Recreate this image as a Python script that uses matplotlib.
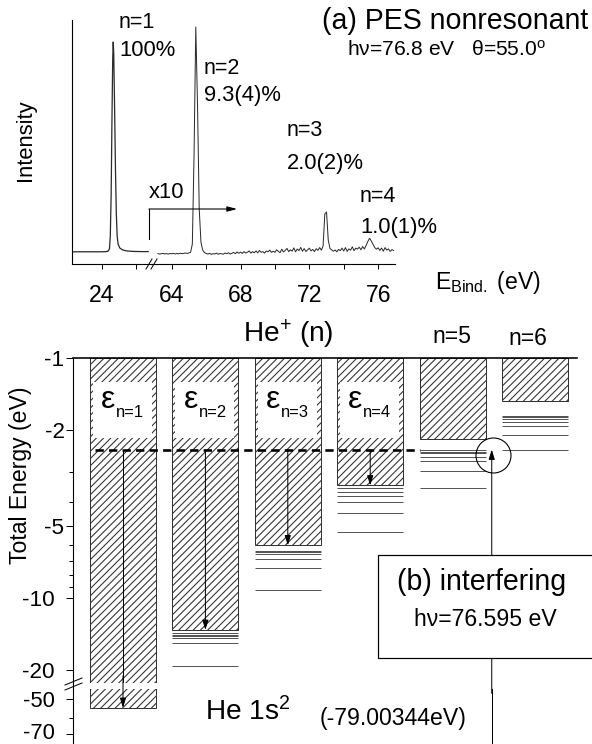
import numpy as np
import matplotlib
matplotlib.use('Agg')
import matplotlib.pyplot as plt
from matplotlib.lines import Line2D
from matplotlib.patches import Rectangle
from matplotlib import transforms

plt.rcParams['font.family'] = ['Liberation Sans', 'DejaVu Sans']
plt.rcParams['mathtext.fontset'] = 'custom'
plt.rcParams['mathtext.rm'] = 'Liberation Sans'
plt.rcParams['mathtext.it'] = 'Liberation Sans:italic'
plt.rcParams['mathtext.bf'] = 'Liberation Sans:bold'
plt.rcParams['hatch.linewidth'] = 0.6

DPI = 130
W, H = 592, 744
PT = 72.0 / DPI  # pixel -> point

# ---------------- data: (a) PES spectrum ----------------
pes_x_low = [22.28, 23.0, 23.8, 24.2, 24.35, 24.45, 24.5, 24.55, 24.6, 24.64,
             24.67, 24.7, 24.75, 24.8, 24.85, 24.9, 24.95, 25.05, 25.2, 25.4,
             25.8, 26.3, 26.7]
pes_i_low = [12.2, 12.2, 12.2, 12.3, 12.6, 15, 28, 70, 150, 205,
             222, 210, 155, 95, 50, 28, 20, 16, 14.2, 13.2,
             12.6, 12.4, 12.4]
pes_x_high = np.round(np.arange(63.2, 76.95, 0.1), 2)
pes_i_high = [10.4, 10.0, 10.3, 10.6, 10.1, 10.4, 9.9, 10.5,
              10.2, 10.7, 10.0, 10.5, 10.1, 10.8, 10.3, 10.6, 11.0, 10.6,
              11.0, 11.8, 20, 110, 237, 160, 55, 22, 14, 11.5,
              10.6, 9.9, 10.7, 9.6, 10.3, 10.0, 10.9, 9.7, 10.5, 10.1,
              9.8, 11.0, 10.2, 11.3, 9.9, 10.8, 11.6, 10.3, 12.1, 10.7,
              11.9, 10.6, 12.4, 11.0, 11.7, 13.1, 10.9, 12.4, 11.2, 13.0,
              11.2, 13.5, 11.7, 12.4, 10.9, 13.0, 12.2, 13.9, 11.6, 12.8,
              11.6, 14.2, 12.6, 11.3, 14.8, 12.1, 13.6, 15.6, 12.4, 14.2,
              12.8, 16.1, 12.2, 15.0, 13.4, 16.6, 12.7, 15.4, 12.5, 14.1,
              15.8, 13.1, 14.6, 12.4, 15.3, 13.6, 16.4, 13.8, 18, 50,
              52, 24, 15.5, 14.2, 12.8, 14.0, 12.2, 14.6, 13.3, 15.9,
              13.0, 16.4, 12.6, 15.1, 13.8, 17.2, 13.4, 15.8, 14.9, 16.8,
              14.2, 17.5, 15.0, 18.6, 22.5, 25.7, 23.0, 19.8, 16.5, 14.8,
              16.2, 13.6, 15.9, 12.8, 16.4, 13.9, 15.1, 12.6, 14.4, 13.5]
xticks_low = [24]
xticks_low_minor = [26]
xticks_high = [64, 68, 72, 76]
xticks_high_minor = [66, 70, 74]
peak_names = ["n=1", "n=2", "n=3", "n=4"]
peak_ratios = ["100%", "9.3(4)%", "2.0(2)%", "1.0(1)%"]

# ---------------- data: (b) energy level diagram ----------------
levels_n = [1, 2, 3, 4, 5, 6]
thresholds = [-54.4, -13.6, -6.04, -3.40, -2.18, -1.51]   # He+(n) thresholds (eV)
ryd_n2 = [-14.0, -14.25, -14.45, -14.75, -15.4, -19.2]
ryd_n3 = [-6.35, -6.45, -6.58, -6.88, -7.48, -9.26]
ryd_n4 = [-3.49, -3.63, -3.76, -3.99, -4.41, -5.32]
ryd_n5 = [-2.42, -2.46, -2.50, -2.58, -2.70, -2.95, -3.47]
ryd_n6 = [-1.74, -1.77, -1.80, -1.84, -1.93, -2.10, -2.43]
ground_energy = -79.00344
photon_energy = 76.595
final_energy = ground_energy + photon_energy
yticks_main = [-1, -2, -5, -10, -20]
yticks_main_minor = [-3, -4, -6, -7, -8, -9]
yticks_low = [-50, -70]
yticks_low_minor = [-60]

# ---------------- figure ----------------
fig = plt.figure(figsize=(W / DPI, H / DPI), dpi=DPI)


def fx(px):
    return px / W


def fy(py):
    return 1 - py / H


def rect(l, t, r, b):
    return [fx(l), fy(b), (r - l) / W, (b - t) / H]


def ftext(x, y, s, size, **kw):
    kw.setdefault('ha', 'left')
    kw.setdefault('va', 'center')
    return fig.text(fx(x), fy(y), s, fontsize=size * PT, **kw)


def fline(xs, ys, lw=1.0, **kw):
    fig.add_artist(Line2D([fx(v) for v in xs], [fy(v) for v in ys],
                          transform=fig.transFigure, color='k',
                          lw=lw * PT, **kw))


# ---- panel (a) ----
axL = fig.add_axes(rect(72, 20, 152, 264))
axR = fig.add_axes(rect(152, 20, 395, 264))
axL.set_xlim(22.273, 26.924)
axR.set_xlim(62.855, 76.98)
for ax in (axL, axR):
    ax.set_ylim(0, 244)
    ax.set_yticks([])
    ax.patch.set_alpha(0)
    for s in ('top', 'right'):
        ax.spines[s].set_visible(False)
    ax.spines['bottom'].set_linewidth(1.1 * PT)
    ax.spines['left'].set_linewidth(1.1 * PT)
    ax.tick_params(axis='x', which='both', direction='out', length=5 * PT,
                   width=1.0 * PT, pad=15 * PT, labelsize=23 * PT)
axR.spines['left'].set_visible(False)
axL.set_xticks(xticks_low, labels=[str(v) for v in xticks_low])
axL.set_xticks(xticks_low_minor, minor=True)
axR.set_xticks(xticks_high, labels=[str(v) for v in xticks_high])
axR.set_xticks(xticks_high_minor, minor=True)

axL.plot(pes_x_low, pes_i_low, color='#2a2a2a', lw=0.7)
axR.plot(pes_x_high, pes_i_high, color='#2a2a2a', lw=0.55)

# x10 marker
axR.plot([62.68, 62.68], [25, 55], color='k', lw=0.6, clip_on=False)
axR.annotate('', xy=(67.80, 55), xytext=(62.68, 55), annotation_clip=False,
             arrowprops=dict(arrowstyle='-|>,head_length=0.45,head_width=0.12',
                             lw=0.6, color='k', shrinkA=0, shrinkB=0))
ftext(149, 192, "x10", 22)

# peak annotations
name_pos = [(119, 23), (204, 68), (287, 131), (360, 197)]
ratio_pos = [(119, 51), (204, 96), (287, 163), (360, 227)]
for nm, rt, (x1, y1), (x2, y2) in zip(peak_names, peak_ratios, name_pos, ratio_pos):
    ftext(x1, y1, nm, 21.5)
    ftext(x2, y2, rt, 22)

ftext(322, 21, "(a) PES nonresonant", 28.5)
ftext(347, 50, r"hν=76.8 eV   θ=55.0$^{\mathregular{o}}$", 21)
ftext(435, 283, r"E$_{\mathregular{Bind.}}$ (eV)", 23)
ftext(25, 140, "Intensity", 22, rotation=90, ha='center')

# x-axis break marks
fline([146, 152], [269, 259], lw=1.0)
fline([151, 157], [269, 259], lw=1.0)

# ---- panel (b) ----
axB = fig.add_axes(rect(73, 358, 577, 683))
axC = fig.add_axes(rect(73, 689, 577, 744))
for ax in (axB, axC):
    ax.set_yscale('log')
    ax.set_xlim(0.3932, 6.5097)
    ax.set_xticks([])
    ax.patch.set_alpha(0)
    for s in ('right', 'bottom', 'top'):
        ax.spines[s].set_visible(False)
    ax.spines['left'].set_linewidth(1.1 * PT)
axB.spines['top'].set_visible(True)
axB.spines['top'].set_linewidth(1.6 * PT)
axB.set_ylim(22.64, 1.0)
axC.set_ylim(76.9, 45.4)

mag = lambda vals: [-v for v in vals]

axB.set_yticks(mag(yticks_main), labels=[str(v) for v in yticks_main])
axB.set_yticks(mag(yticks_main_minor), labels=[''] * len(yticks_main_minor), minor=True)
axC.set_yticks(mag(yticks_low), labels=[str(v) for v in yticks_low])
axC.set_yticks(mag(yticks_low_minor), labels=[''] * len(yticks_low_minor), minor=True)
axB.tick_params(axis='y', which='major', direction='out', length=7 * PT,
                width=1.0 * PT, pad=1.5 * PT, labelsize=22.5 * PT)
axC.tick_params(axis='y', which='major', direction='out', length=7 * PT,
                width=1.0 * PT, pad=11 * PT, labelsize=22 * PT)
for ax in (axB, axC):
    ax.tick_params(axis='y', which='minor', direction='out', length=4 * PT,
                   width=1.0 * PT)

# continuum bars (hatched)
bar_heights = [-t - 1.0 for t in thresholds]
for ax in (axB, axC):
    ax.bar(levels_n, bar_heights, bottom=1.0, width=0.8, color='white',
           edgecolor='#333333', hatch='//////', lw=1.0 * PT, zorder=2)

# white label boxes and epsilon labels
bt = transforms.blended_transform_factory(axB.transData, axB.transAxes)
for n in levels_n[:4]:
    axB.add_patch(Rectangle((n - 0.4 + 0.036, 0.754), 0.8 - 0.036 - 0.049,
                            0.926 - 0.754, transform=bt, fc='white',
                            ec='none', zorder=3))
    axB.text(n - 0.4 + 11 / 82.4, 0.870, "ε", transform=bt,
             fontsize=32 * PT, ha='left', va='center', zorder=4)
    axB.text(n - 0.4 + 26 / 82.4, 0.832, "n=%d" % n, transform=bt,
             fontsize=16.5 * PT, ha='left', va='center', zorder=4)

# Rydberg series below thresholds
for n, lv in zip([2, 3, 4, 5, 6], [ryd_n2, ryd_n3, ryd_n4, ryd_n5, ryd_n6]):
    axB.hlines(mag(lv), n - 0.4, n + 0.4, colors='#555555', lw=1.0 * PT, zorder=2)

# dashed final-state level
axB.plot([0.66, 4.6], [-final_energy] * 2, color='k', lw=2.6 * PT,
         ls=(0, (3.2, 2.0)), zorder=5)

# kinetic-energy arrows
aprops = dict(arrowstyle='-|>,head_length=0.45,head_width=0.14', lw=1.0 * PT,
              color='k', shrinkA=0, shrinkB=0)
for n, th in zip(levels_n[1:4], thresholds[1:4]):
    axB.annotate('', xy=(n, -th), xytext=(n, -final_energy),
                 arrowprops=aprops, zorder=5)
axB.plot([1, 1], [-final_energy, 30], color='k', lw=1.0 * PT, zorder=5)
axC.annotate('', xy=(1, -thresholds[0]), xytext=(1, 40), arrowprops=aprops,
             zorder=5)

# photon excitation arrow and circle
axC.plot([5.475, 5.475], [80, 45.4], color='k', lw=1.0 * PT, clip_on=False)
axB.annotate('', xy=(5.475, -final_energy), xytext=(5.475, 25),
             arrowprops=aprops, zorder=5)
axB.plot([5.49], [2.536], marker='o', ms=35 * PT, mfc='none', mec='k',
         mew=1.1 * PT, clip_on=False, zorder=6)

# shift tick labels as in the original
off = transforms.ScaledTranslation(-10.0 / DPI, 0, fig.dpi_scale_trans)
for lab in axB.get_yticklabels():
    if lab.get_text() in ('-10', '-20'):
        lab.set_transform(lab.get_transform() + off)
up = transforms.ScaledTranslation(0, 3.0 / DPI, fig.dpi_scale_trans)
for lab in axC.get_yticklabels():
    if lab.get_text() == '-70':
        lab.set_transform(lab.get_transform() + up)

# y-axis break
fline([73, 73], [683, 689], lw=1.1)
fline([65, 82], [685, 678], lw=1.0)
fline([65, 82], [690, 683], lw=1.0)

# texts panel (b)
ftext(243, 334, r"He$^{\mathregular{+}}$ (n)", 28)
ftext(452, 337, "n=5", 23, ha='center')
ftext(528, 339, "n=6", 23, ha='center')
ftext(205, 712, r"He 1s$^{\mathregular{2}}$", 28)
ftext(320, 718, "(-79.00344eV)", 23)
ftext(21, 475, "Total Energy (eV)", 23, rotation=90, ha='center')

# box (b)
fig.add_artist(Rectangle((fx(378), fy(658)), (610 - 378) / W, (658 - 555) / H,
                         transform=fig.transFigure, fc='white', ec='k',
                         lw=1.2 * PT, zorder=10, clip_on=False))
ftext(397, 582, "(b) interfering", 28.5, zorder=11)
ftext(414, 620, "hν=76.595 eV", 23, zorder=11)

fig.savefig('out.png', dpi=DPI)
